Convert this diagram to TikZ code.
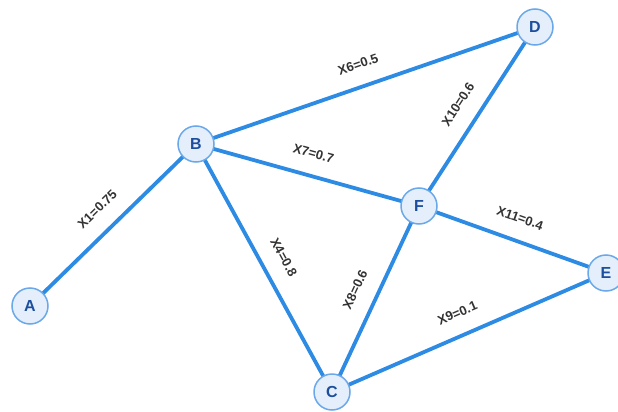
\documentclass[tikz,border=0pt]{standalone}
\usepackage{fontspec}
\setmainfont{Liberation Sans}
\definecolor{edgeblue}{HTML}{2E8BE3}
\definecolor{nodefill}{HTML}{E4EFFB}
\definecolor{nodeborder}{HTML}{6AA8EA}
\definecolor{nodetext}{HTML}{1D4F9E}
\definecolor{lbltext}{HTML}{333333}
\begin{document}
\begin{tikzpicture}[x=1pt,y=-1pt,
  vert/.style={circle,draw=nodeborder,fill=nodefill,line width=1.5pt,minimum size=36pt,inner sep=0pt,
    font=\fontsize{16}{16}\selectfont\bfseries,text=nodetext},
  conn/.style={draw=edgeblue,line width=3.8pt},
  lbl/.style={sloped,above=15pt,inner sep=1pt,font=\fontsize{13}{13}\selectfont\bfseries,text=lbltext}]
\useasboundingbox (0,0) rectangle (618,412);
\coordinate (pA) at (30,306);
\coordinate (pB) at (196,144);
\coordinate (pC) at (332,392);
\coordinate (pD) at (535,27);
\coordinate (pE) at (606,273);
\coordinate (pF) at (419,206);
\draw[conn] (pA) -- node[lbl,pos=0.5]{X1=0.75} (pB);
\draw[conn] (pB) -- node[lbl,pos=0.5]{X6=0.5} (pD);
\draw[conn] (pB) -- node[lbl,pos=0.5]{X7=0.7} (pF);
\draw[conn] (pB) -- node[lbl,pos=0.5]{X4=0.8} (pC);
\draw[conn] (pF) -- node[lbl,pos=0.5]{X10=0.6} (pD);
\draw[conn] (pF) -- node[lbl,pos=0.5]{X11=0.4} (pE);
\draw[conn] (pC) -- node[lbl,pos=0.5]{X8=0.6} (pF);
\draw[conn] (pC) -- node[lbl,pos=0.49]{X9=0.1} (pE);
\node[vert] (A) at (pA) {A};
\node[vert] (B) at (pB) {B};
\node[vert] (C) at (pC) {C};
\node[vert] (D) at (pD) {D};
\node[vert] (E) at (pE) {E};
\node[vert] (F) at (pF) {F};
\end{tikzpicture}
\end{document}
